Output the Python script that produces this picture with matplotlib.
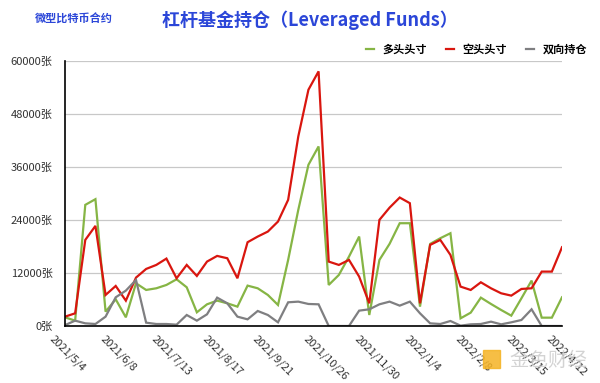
import matplotlib
matplotlib.use("Agg")
import matplotlib.pyplot as plt
import matplotlib.transforms as mtransforms

plt.rcParams['font.family'] = ['Noto Sans CJK SC', 'DejaVu Sans']

dates = ["2021/5/4", "2021/6/8", "2021/7/13", "2021/8/17", "2021/9/21",
         "2021/10/26", "2021/11/30", "2022/1/4", "2022/2/8", "2022/3/15", "2022/4/12"]
tick_idx = [0, 5, 10, 15, 20, 25, 30, 35, 40, 45, 49]

long_pos = [1964, 1209, 27428, 28713, 3249, 6045, 1964, 9672, 8160, 8538,
            9294, 10578, 8765, 3098, 4911, 5743, 5138, 4382, 9143, 8538,
            7027, 4760, 14961, 26295, 36496, 40652, 9294, 11561, 15716, 20250,
            2493, 14961, 18600, 23272, 23272, 4382, 18588, 19872, 21005, 1738,
            3022, 6422, 4987, 3627, 2342, 6271, 10276, 1889, 1889, 6498]
short_pos = [2116, 2871, 19494, 22668, 7027, 9067, 5743, 10956, 12921, 13828,
             15263, 10805, 13828, 11334, 14583, 15868, 15339, 10805, 18966, 20250,
             21383, 23650, 28562, 42918, 53496, 57652, 14583, 13828, 14961, 11183,
             5138, 24028, 26800, 29090, 27806, 5138, 18361, 19494, 16094, 8916,
             8160, 9898, 8538, 7405, 6876, 8387, 8538, 12316, 12316, 17832]
spread_pos = [200, 1209, 604, 453, 2116, 6498, 8009, 10427, 755, 453,
              453, 302, 2493, 1209, 2645, 6422, 5138, 2116, 1511, 3400,
              2493, 831, 5365, 5516, 4987, 4911, 0, 0, 0, 3476,
              3778, 4911, 5516, 4609, 5516, 2871, 604, 453, 1133, 76,
              378, 453, 982, 378, 831, 1360, 3778, 0, 0, 0]

series_names = ["多头头寸", "空头头寸", "双向持仓"]
colors = ["#86b545", "#d9160f", "#7f7f81"]

fig = plt.figure(figsize=(6.0, 3.83), dpi=100)
ax = fig.add_axes([65/600, 1-326/383, (562-65)/600, (326-61)/383])

x = list(range(len(long_pos)))
for vals, name, c in zip([long_pos, short_pos, spread_pos], series_names, colors):
    ax.plot(x, vals, color=c, lw=1.6, label=name, solid_joinstyle='miter')

ax.set_xlim(0, len(x) - 1)
ax.set_ylim(0, 60000)
yt = [0, 12000, 24000, 36000, 48000, 60000]
ax.set_yticks(yt)
ax.set_yticklabels([f"{v}张" for v in yt], fontsize=8, color="#333333")
ax.yaxis.grid(True, color="#c8c8c8", lw=0.9)
ax.set_axisbelow(True)
ax.tick_params(axis='y', length=0, pad=9)
ax.tick_params(axis='x', length=0, pad=3)

ax.set_xticks(tick_idx)
labels = ax.set_xticklabels(dates, rotation=-45, ha='left', va='top',
                            fontsize=8, color="#333333")
offset = mtransforms.ScaledTranslation(-0.17, -0.03, fig.dpi_scale_trans)
for lab in labels:
    lab.set_transform(lab.get_transform() + offset)

for s in ['top', 'right']:
    ax.spines[s].set_visible(False)
ax.spines['left'].set_color('#000000')
ax.spines['bottom'].set_color('#000000')
ax.spines['left'].set_linewidth(1.2)
ax.spines['bottom'].set_linewidth(1.2)

fig.text(35/600, 1-19/383, "微型比特币合约", fontsize=8, color="#2b46d8",
         fontweight='bold', ha='left', va='center')
fig.text(310/600, 1-20/383, "杠杆基金持仓（Leveraged Funds）", fontsize=13,
         color="#2b46d8", fontweight='bold', ha='center', va='center')

leg = fig.legend(loc='center right', bbox_to_anchor=(597/600, 1-49/383), ncol=3,
                 frameon=False, handlelength=0.7, handletextpad=0.8,
                 columnspacing=1.7, prop={'weight': 'bold', 'size': 8})

fig.patches.append(plt.Rectangle((483/600, 1-368/383), 17/600, 18/383,
                                 transform=fig.transFigure, color="#f5b324",
                                 alpha=0.85, zorder=5))
fig.text(509/600, 1-360/383, "金色财经", fontsize=14, color="#cccccc",
         ha='left', va='center', alpha=0.85)

fig.savefig("out.png", dpi=100)
